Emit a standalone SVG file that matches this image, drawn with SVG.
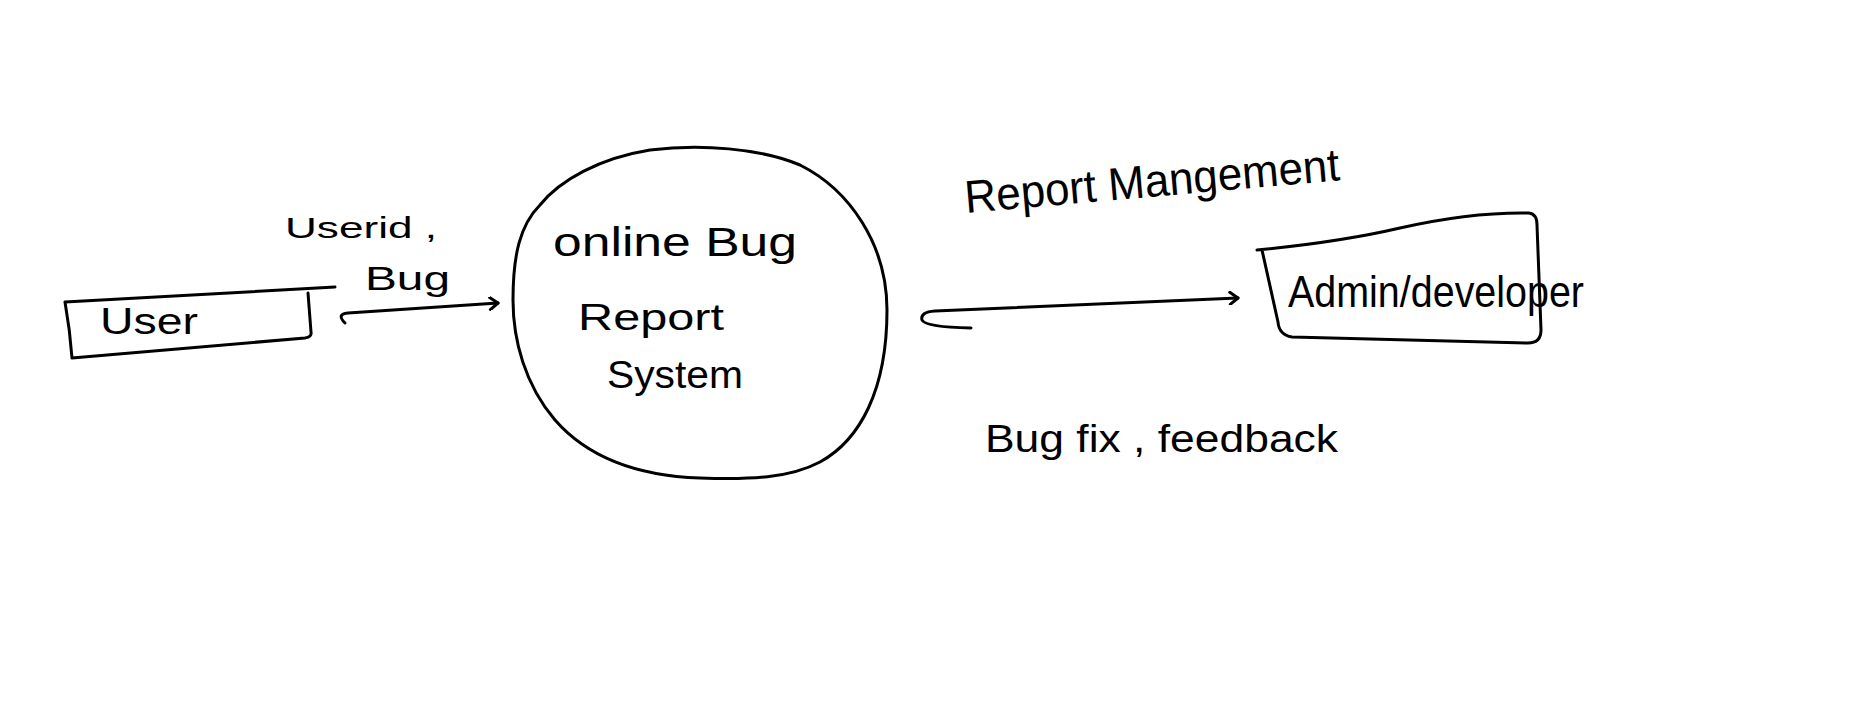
<svg xmlns="http://www.w3.org/2000/svg" width="1855" height="726" viewBox="0 0 1855 726">
<defs>
<style>
.s{fill:none;stroke:#000;stroke-width:3;stroke-linecap:round;stroke-linejoin:round}
.t{font-family:"Liberation Sans",Arial,sans-serif;fill:#000}
</style>
<marker id="ah" markerWidth="14" markerHeight="14" refX="11" refY="7" orient="auto" markerUnits="userSpaceOnUse">
<path d="M3,1 L11,7 L3,13" fill="none" stroke="#000" stroke-width="3" stroke-linecap="round" stroke-linejoin="round"/>
</marker>
</defs>
<rect width="1855" height="726" fill="#fff"/>
<g id="user">
<path class="s" d="M65,302 L335,287 M308,293 L311,332 Q312,337 305,338 L72,358 Q70,330 65,302"/>
<text class="t" x="100" y="334" font-size="36" textLength="98" lengthAdjust="spacingAndGlyphs">User</text>
</g>
<g id="system">
<path class="s" d="M513,300 C513,255 520,225 540,205 C560,180 600,158 650,150 C700,144 760,148 800,165 C850,190 887,245 887,310 C887,390 860,440 820,462 C790,478 750,480 700,478 C640,476 590,460 555,420 C525,385 513,340 513,300 Z"/>
<text class="t" x="553" y="256" font-size="40" textLength="244" lengthAdjust="spacingAndGlyphs">online Bug</text>
<text class="t" x="578" y="330" font-size="36" textLength="146" lengthAdjust="spacingAndGlyphs">Report</text>
<text class="t" x="607" y="388" font-size="38" textLength="136" lengthAdjust="spacingAndGlyphs">System</text>
</g>
<g id="admin">
<path class="s" d="M1257,250 Q1340,242 1400,228 Q1470,212 1529,213 Q1537,214 1537,225 L1541,330 Q1541,343 1528,343 L1292,337 Q1279,335 1278,322 L1262,250"/>
<text class="t" x="1288" y="307" font-size="44" textLength="296" lengthAdjust="spacingAndGlyphs">Admin/developer</text>
</g>
<g id="connectors">
<path class="s" d="M345,323 Q336,314 348,313 L498,303" marker-end="url(#ah)"/>
<path class="s" d="M971,328 Q925,327 922,320 Q920,312 935,311 L1238,298" marker-end="url(#ah)"/>
</g>
<g id="labels">
<text class="t" x="285" y="238" font-size="30" textLength="152" lengthAdjust="spacingAndGlyphs">Userid ,</text>
<text class="t" x="365" y="290" font-size="34" textLength="85" lengthAdjust="spacingAndGlyphs">Bug</text>
<text class="t" x="966" y="213" font-size="46" textLength="376" lengthAdjust="spacingAndGlyphs" transform="rotate(-5 966 213)">Report Mangement</text>
<text class="t" x="985" y="452" font-size="38" textLength="353" lengthAdjust="spacingAndGlyphs">Bug fix , feedback</text>
</g>
</svg>
